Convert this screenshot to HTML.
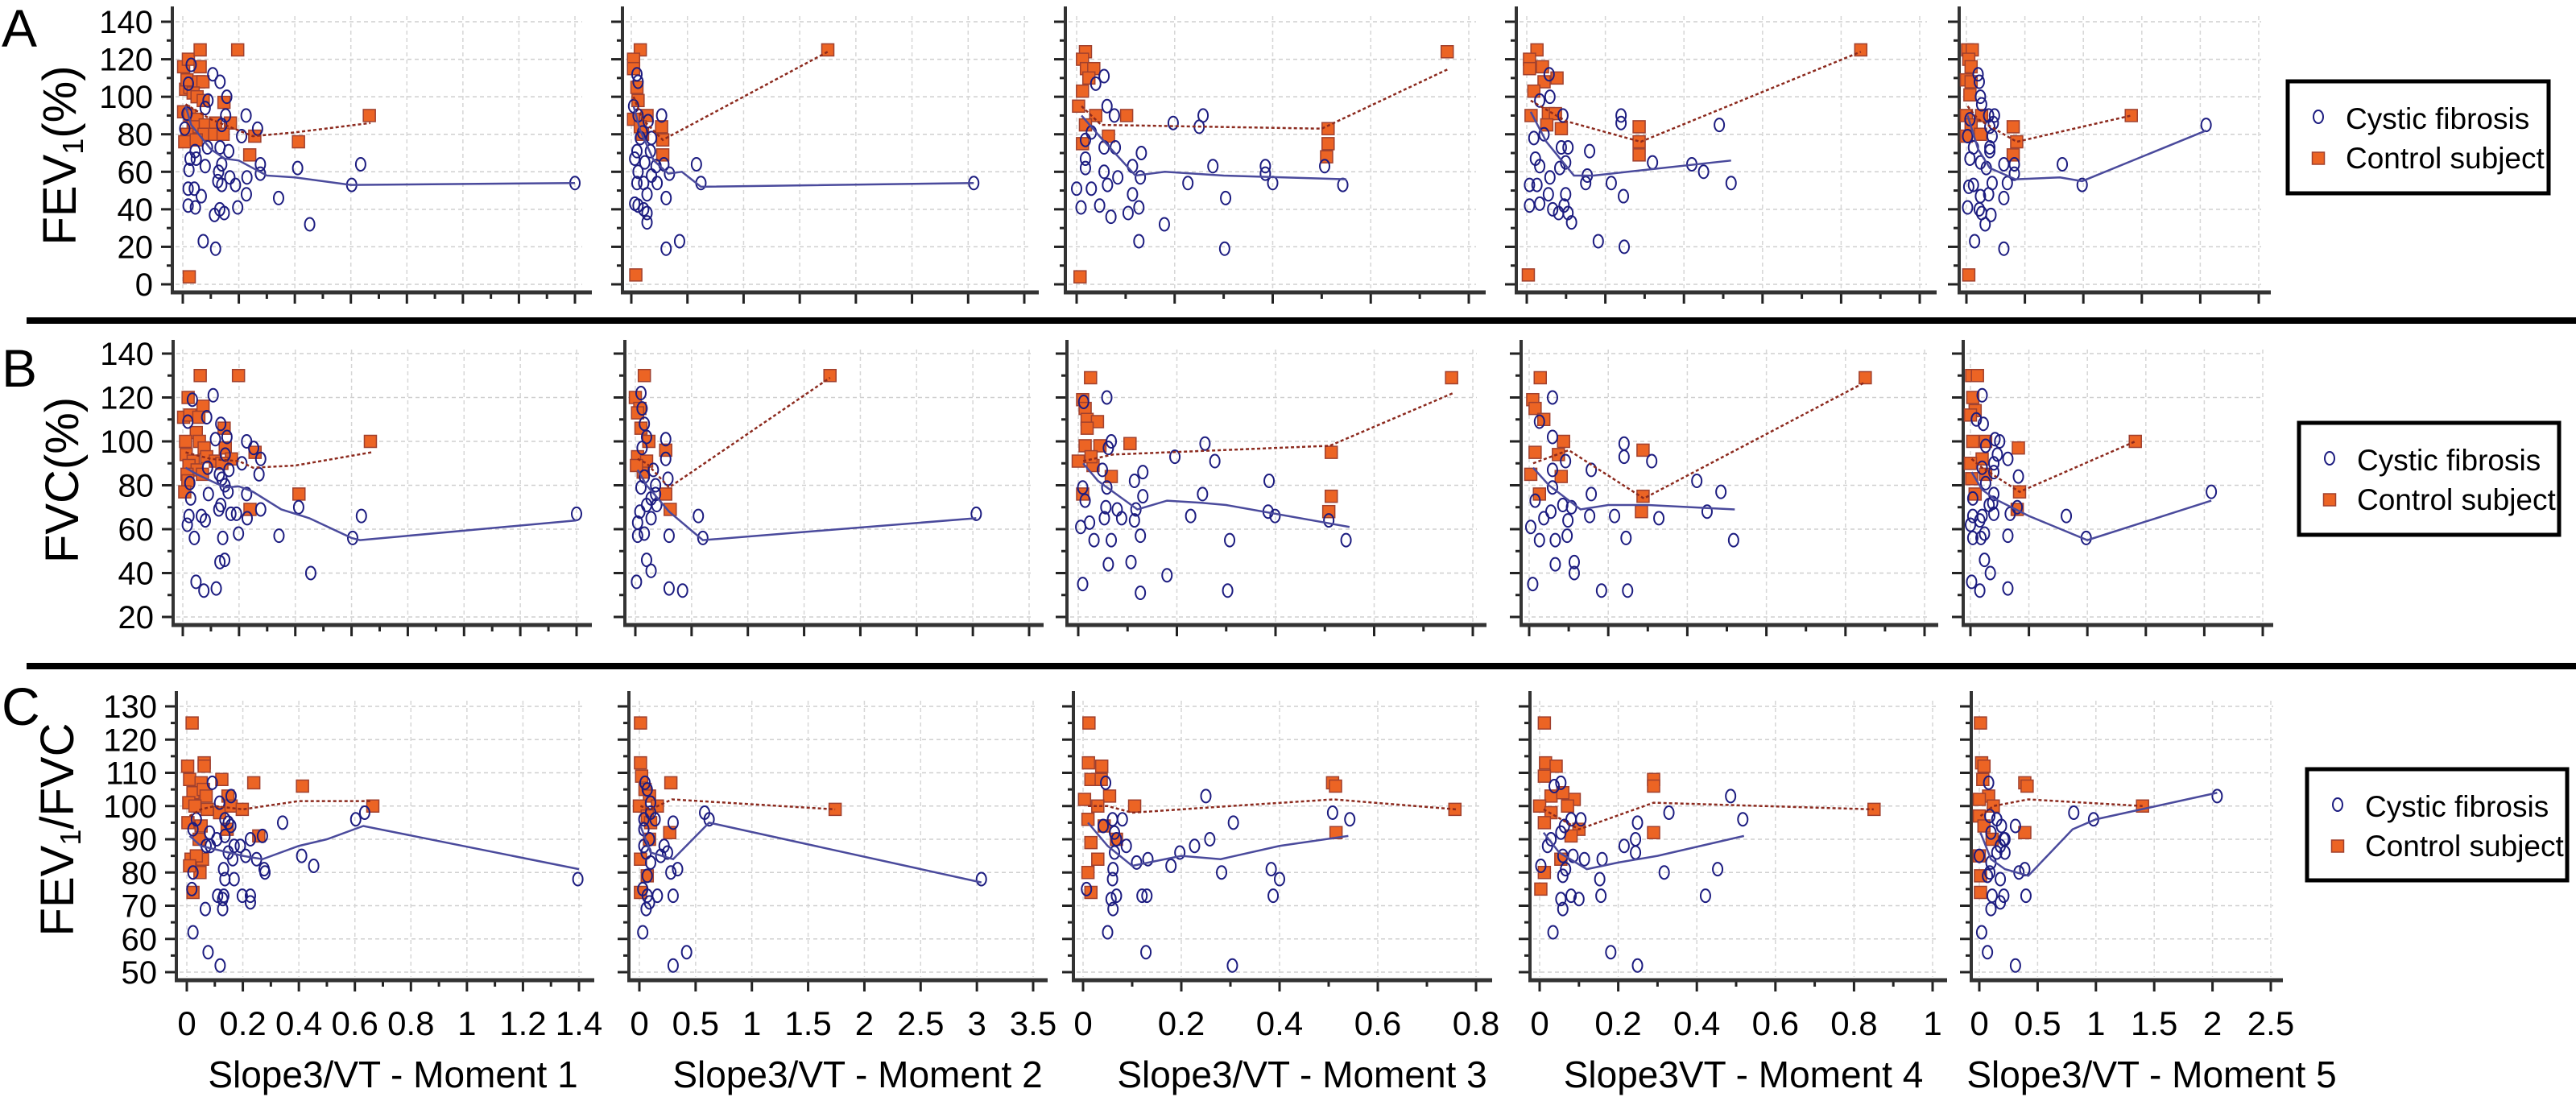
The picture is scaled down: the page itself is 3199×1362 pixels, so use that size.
<!DOCTYPE html>
<html><head><meta charset="utf-8">
<style>
html,body{margin:0;padding:0;background:#fff;}
svg{display:block;font-family:"Liberation Sans",Arial,sans-serif;}
</style></head>
<body>
<svg id="fig" width="3199" height="1362" viewBox="0 0 3199 1362" xmlns="http://www.w3.org/2000/svg"></svg>
<script>
// ---------- tick label arrays ----------
const xTickLabels1 = ["0","0.2","0.4","0.6","0.8","1","1.2","1.4"];
const xTickLabels2 = ["0","0.5","1","1.5","2","2.5","3","3.5"];
const xTickLabels3 = ["0","0.2","0.4","0.6","0.8"];
const xTickLabels4 = ["0","0.2","0.4","0.6","0.8","1"];
const xTickLabels5 = ["0","0.5","1","1.5","2","2.5"];
const xTitles = ["Slope3/VT - Moment 1","Slope3/VT - Moment 2","Slope3/VT - Moment 3","Slope3VT - Moment 4","Slope3/VT - Moment 5"];
const yTickLabelsA = ["0","20","40","60","80","100","120","140"];
const yTickLabelsB = ["20","40","60","80","100","120","140"];
const yTickLabelsC = ["50","60","70","80","90","100","110","120","130"];

// ---------- Row A (FEV1 %) ----------
const cfA1 = [[0.03,117],[0.107,112],[0.133,108],[0.02,107],[0.157,100],[0.09,98],[0.08,94],[0.153,90],[0.226,90],[0.139,85],[0.267,83],[0.21,79],[0.088,73],[0.133,73],[0.164,71],[0.044,71],[0.026,67],[0.048,67],[0.139,64],[0.277,64],[0.635,64],[0.08,63],[0.022,61],[0.128,60],[0.277,59],[0.41,62],[0.229,57],[0.168,57],[0.125,55],[0.139,53],[0.188,53],[0.603,53],[1.4,54],[0.019,51],[0.041,51],[0.227,48],[0.066,47],[0.342,46],[0.019,42],[0.045,41],[0.132,40],[0.196,41],[0.113,37],[0.148,38],[0.453,32],[0.073,23],[0.117,19],[0.007,83],[0.015,91]];
const ctA1 = [[0.003,116],[0.02,120],[0.062,125],[0.196,125],[0.01,104],[0.025,105],[0.015,109],[0.062,116],[0.057,108],[0.072,108],[0.037,102],[0.051,100],[0.073,98],[0.147,97],[0.003,92],[0.025,90],[0.051,88],[0.08,85],[0.117,86],[0.17,86],[0.037,84],[0.015,80],[0.076,80],[0.114,80],[0.144,80],[0.257,79],[0.007,76],[0.048,77],[0.239,69],[0.413,76],[0.666,90],[0.023,4]];
const cfLineA1 = [[0.01,95],[0.03,85],[0.1,72],[0.15,67],[0.2,66],[0.3,58],[0.4,57],[0.6,53],[1.4,54]];
const ctLineA1 = [[0.01,96],[0.1,88],[0.25,79],[0.4,81],[0.67,86]];

const cfA2 = [[0.05,112],[0.06,108],[0.02,95],[0.06,90],[0.27,90],[0.15,87],[0.05,71],[0.17,71],[0.03,67],[0.12,65],[0.29,64],[0.58,64],[0.22,63],[0.06,60],[0.34,59],[0.18,58],[0.05,54],[0.11,54],[0.23,54],[0.62,54],[3.05,54],[0.14,48],[0.31,46],[0.06,42],[0.03,43],[0.11,40],[0.14,38],[0.14,33],[0.31,19],[0.43,23],[0.1,81],[0.18,78],[0.08,78]];
const ctA2 = [[0.08,125],[0.02,120],[0.02,115],[0.05,105],[0.06,98],[0.14,90],[0.27,84],[0.1,80],[0.28,77],[0.28,69],[1.75,125],[0.04,5],[0.02,88],[0.08,84]];
const cfLineA2 = [[0.02,95],[0.08,82],[0.2,66],[0.33,59],[0.45,60],[0.62,52],[3.05,54]];
const ctLineA2 = [[0.02,100],[0.1,88],[0.28,77],[1.75,124]];

const cfA3 = [[0.056,111],[0.039,107],[0.062,95],[0.077,90],[0.197,86],[0.258,90],[0.25,84],[0.056,73],[0.079,73],[0.132,70],[0.018,67],[0.018,62],[0.114,63],[0.056,60],[0.084,57],[0.13,57],[0.278,63],[0.385,63],[0.385,59],[0.506,63],[0.0,51],[0.03,51],[0.063,53],[0.227,54],[0.4,54],[0.543,53],[0.114,48],[0.304,46],[0.009,41],[0.047,42],[0.07,36],[0.105,38],[0.127,41],[0.179,32],[0.127,23],[0.302,19],[0.03,81],[0.018,77]];
const ctA3 = [[0.018,124],[0.012,120],[0.02,115],[0.035,115],[0.025,110],[0.012,103],[0.004,95],[0.039,90],[0.102,90],[0.018,85],[0.065,79],[0.012,75],[0.513,83],[0.513,75],[0.51,68],[0.756,124],[0.007,4]];
const cfLineA3 = [[0.01,90],[0.05,78],[0.12,58],[0.18,60],[0.3,58],[0.55,56]];
const ctLineA3 = [[0.01,95],[0.05,85],[0.5,83],[0.76,115]];

const cfA4 = [[0.057,112],[0.033,98],[0.059,100],[0.092,90],[0.24,90],[0.24,86],[0.49,85],[0.088,73],[0.105,73],[0.16,71],[0.022,67],[0.099,65],[0.033,63],[0.084,62],[0.32,65],[0.42,64],[0.45,60],[0.154,58],[0.059,57],[0.007,53],[0.026,53],[0.15,54],[0.215,54],[0.52,54],[0.055,48],[0.099,48],[0.246,47],[0.007,42],[0.033,43],[0.066,40],[0.095,42],[0.081,38],[0.105,38],[0.114,33],[0.182,23],[0.248,20],[0.044,80],[0.018,78]];
const ctA4 = [[0.026,125],[0.007,120],[0.007,115],[0.04,116],[0.077,110],[0.044,108],[0.018,103],[0.055,91],[0.073,91],[0.011,90],[0.088,83],[0.051,85],[0.286,84],[0.286,76],[0.286,69],[0.85,125],[0.004,5]];
const cfLineA4 = [[0.01,92],[0.05,76],[0.12,58],[0.17,58],[0.3,61],[0.52,66]];
const ctLineA4 = [[0.01,98],[0.1,87],[0.29,76],[0.85,124]];

const cfA5 = [[0.1,112],[0.11,108],[0.12,100],[0.13,96],[0.19,90],[0.24,90],[0.23,86],[0.2,84],[0.22,79],[0.01,79],[0.06,73],[0.2,73],[0.2,71],[0.03,67],[0.12,65],[0.17,62],[0.32,64],[0.41,64],[0.82,64],[0.41,59],[0.02,52],[0.06,53],[0.22,54],[0.35,54],[0.99,53],[0.12,47],[0.19,48],[0.32,46],[0.01,41],[0.11,40],[0.13,38],[0.21,37],[0.16,32],[0.07,23],[0.32,19],[2.05,85],[0.03,88]];
const ctA5 = [[0.01,125],[0.05,125],[0.02,120],[0.04,116],[0.0,109],[0.04,108],[0.03,101],[0.0,90],[0.13,90],[0.04,85],[0.12,80],[0.0,79],[0.4,84],[0.43,76],[0.4,69],[1.41,90],[0.02,5]];
const cfLineA5 = [[0.01,90],[0.1,72],[0.2,62],[0.42,56],[0.8,57],[0.99,55],[2.05,82]];
const ctLineA5 = [[0.01,95],[0.1,88],[0.43,76],[1.41,90]];

// ---------- Row B (FVC %) ----------
const cfB1 = [[0.034,119],[0.108,121],[0.135,108],[0.018,109],[0.157,102],[0.085,111],[0.116,101],[0.227,100],[0.252,97],[0.151,94],[0.277,92],[0.21,90],[0.088,88],[0.164,87],[0.271,85],[0.139,83],[0.025,81],[0.161,77],[0.091,76],[0.227,76],[0.028,74],[0.135,71],[0.128,69],[0.277,69],[0.412,70],[0.171,67],[0.191,67],[0.022,66],[0.066,66],[0.229,65],[0.635,66],[0.08,64],[0.016,62],[1.4,67],[0.041,56],[0.142,56],[0.198,58],[0.342,57],[0.604,56],[0.132,45],[0.149,46],[0.455,40],[0.047,36],[0.075,32],[0.119,33],[0.13,85],[0.15,80]];
const ctB1 = [[0.062,130],[0.198,130],[0.019,120],[0.003,111],[0.025,112],[0.072,116],[0.057,111],[0.048,104],[0.147,106],[0.01,100],[0.059,100],[0.076,97],[0.151,97],[0.257,95],[0.012,94],[0.037,91],[0.085,93],[0.116,91],[0.173,92],[0.022,89],[0.051,87],[0.015,85],[0.07,85],[0.139,90],[0.018,82],[0.007,77],[0.239,69],[0.413,76],[0.667,100]];
const cfLineB1 = [[0.01,88],[0.05,85],[0.1,82],[0.15,79],[0.2,79.5],[0.25,77],[0.35,69],[0.45,65],[0.6,56],[0.63,55],[1.4,64]];
const ctLineB1 = [[0.01,95],[0.1,92],[0.2,91],[0.25,88],[0.4,89],[0.67,95]];

const cfB2 = [[0.05,122],[0.06,115],[0.08,108],[0.27,101],[0.1,102],[0.27,92],[0.16,87],[0.08,84],[0.29,83],[0.05,79],[0.18,76],[0.14,74],[0.19,71],[0.1,71],[0.04,68],[0.14,65],[0.56,66],[3.03,67],[0.02,63],[0.08,58],[0.02,57],[0.3,57],[0.6,56],[0.1,46],[0.14,41],[0.01,36],[0.3,33],[0.42,32],[0.18,80],[0.06,97]];
const ctB2 = [[0.08,130],[0.0,120],[0.04,115],[0.02,113],[0.05,106],[0.12,100],[0.02,93],[0.27,96],[0.07,86],[0.27,76],[0.31,69],[1.73,130],[0.1,91],[0.01,89]];
const cfLineB2 = [[0.02,87],[0.1,80],[0.3,68],[0.6,55],[3.03,65]];
const ctLineB2 = [[0.02,92],[0.1,90],[0.3,79],[1.73,129]];

const cfB3 = [[0.058,120],[0.011,118],[0.067,100],[0.257,99],[0.061,97],[0.196,93],[0.277,91],[0.049,87],[0.131,86],[0.114,82],[0.387,82],[0.009,79],[0.058,79],[0.131,75],[0.252,76],[0.014,73],[0.056,70],[0.079,69],[0.117,69],[0.385,68],[0.399,66],[0.228,66],[0.508,64],[0.023,63],[0.053,65],[0.088,65],[0.114,64],[0.005,61],[0.032,55],[0.067,55],[0.126,57],[0.307,55],[0.543,55],[0.061,44],[0.107,45],[0.18,39],[0.009,35],[0.126,31],[0.303,32]];
const ctB3 = [[0.025,129],[0.009,119],[0.014,115],[0.018,110],[0.039,109],[0.018,106],[0.014,98],[0.044,98],[0.105,99],[0.0,91],[0.03,89],[0.067,84],[0.009,76],[0.513,95],[0.513,75],[0.508,68],[0.757,129],[0.026,93]];
const cfLineB3 = [[0.01,90],[0.04,82],[0.12,69],[0.18,73],[0.25,72],[0.3,71],[0.55,61]];
const ctLineB3 = [[0.01,91],[0.07,94],[0.51,98],[0.76,122]];

const cfB4 = [[0.059,120],[0.026,109],[0.059,102],[0.24,99],[0.24,93],[0.31,91],[0.092,91],[0.059,87],[0.157,87],[0.424,82],[0.059,79],[0.157,76],[0.485,77],[0.015,73],[0.085,71],[0.107,70],[0.055,68],[0.45,68],[0.153,66],[0.216,66],[0.328,65],[0.037,65],[0.098,64],[0.004,61],[0.026,55],[0.066,55],[0.096,57],[0.245,56],[0.517,55],[0.066,44],[0.114,45],[0.114,40],[0.009,35],[0.183,32],[0.249,32]];
const ctB4 = [[0.028,129],[0.009,119],[0.015,115],[0.037,110],[0.087,100],[0.015,95],[0.074,94],[0.004,85],[0.081,84],[0.026,76],[0.288,96],[0.288,75],[0.284,68],[0.85,129]];
const cfLineB4 = [[0.01,88],[0.05,80],[0.13,69],[0.2,71],[0.3,71],[0.52,69]];
const ctLineB4 = [[0.01,90],[0.1,96],[0.29,74],[0.85,127]];

const cfB5 = [[0.1,121],[0.05,110],[0.11,108],[0.21,101],[0.25,100],[0.13,98],[0.23,94],[0.32,92],[0.2,90],[0.1,88],[0.2,86],[0.41,84],[0.13,81],[0.2,76],[0.02,74],[0.19,72],[0.16,71],[0.34,67],[0.4,70],[0.82,66],[0.02,66],[0.1,66],[0.2,67],[0.0,62],[0.08,64],[0.02,56],[0.09,56],[0.12,58],[0.32,57],[0.99,56],[2.06,77],[0.12,46],[0.17,40],[0.01,36],[0.08,32],[0.32,33]];
const ctB5 = [[0.01,130],[0.06,130],[0.02,120],[0.04,114],[0.0,112],[0.02,100],[0.13,100],[0.1,92],[0.0,90],[0.13,85],[0.04,76],[0.41,97],[0.42,77],[0.4,69],[1.41,100],[0.01,83]];
const cfLineB5 = [[0.01,86],[0.1,78],[0.2,74],[0.5,66],[1.0,55],[2.06,73]];
const ctLineB5 = [[0.01,92],[0.1,88],[0.42,77],[1.41,100]];

// ---------- Row C (FEV1/FVC) ----------
const cfC1 = [[0.091,107],[0.117,101],[0.158,103],[0.022,93],[0.034,96],[0.136,96],[0.148,95],[0.157,94],[0.342,95],[0.603,96],[0.635,98],[0.081,92],[0.107,90],[0.136,91],[0.069,88],[0.084,88],[0.169,88],[0.191,88],[0.227,90],[0.27,91],[0.148,86],[0.164,84],[0.21,85],[0.249,84],[0.41,85],[0.453,82],[0.131,81],[0.276,81],[0.279,80],[0.136,78],[0.169,78],[1.396,78],[0.022,80],[0.11,73],[0.132,73],[0.198,73],[0.227,73],[0.128,72],[0.128,69],[0.227,71],[0.066,69],[0.018,75],[0.022,62],[0.076,56],[0.119,52]];
const ctC1 = [[0.019,125],[0.003,112],[0.062,113],[0.062,112],[0.01,108],[0.051,107],[0.125,108],[0.239,107],[0.413,106],[0.022,104],[0.059,105],[0.069,103],[0.007,101],[0.029,100],[0.073,99],[0.117,98],[0.147,103],[0.158,100],[0.198,99],[0.664,100],[0.004,95],[0.051,94],[0.144,93],[0.044,90],[0.257,91],[0.015,84],[0.056,84],[0.034,85],[0.047,80],[0.022,74],[0.01,82]];
const cfLineC1 = [[0.01,91],[0.05,88],[0.1,87],[0.2,85],[0.27,84],[0.4,88],[0.5,90],[0.63,94],[1.4,81]];
const ctLineC1 = [[0.01,97],[0.05,99],[0.1,100],[0.2,99],[0.4,101.5],[0.66,101.5]];

const cfC2 = [[0.05,107],[0.07,105],[0.1,101],[0.1,98],[0.58,98],[0.62,96],[0.04,96],[0.14,96],[0.3,95],[0.04,93],[0.09,90],[0.04,88],[0.22,88],[0.25,86],[0.06,86],[0.19,85],[0.1,83],[0.34,81],[0.28,80],[0.07,79],[0.03,75],[0.07,73],[0.16,73],[0.3,73],[0.09,71],[0.06,69],[3.04,78],[0.03,62],[0.42,56],[0.3,52]];
const ctC2 = [[0.01,125],[0.01,113],[0.02,109],[0.28,107],[0.05,105],[0.09,103],[0.16,100],[0.0,100],[0.07,97],[0.1,95],[0.27,92],[0.09,90],[0.01,84],[0.07,79],[0.01,74],[1.74,99]];
const cfLineC2 = [[0.01,94],[0.1,86],[0.3,84],[0.62,95],[3.04,77]];
const ctLineC2 = [[0.01,100],[0.1,99],[0.29,102],[1.74,99]];

const cfC3 = [[0.046,107],[0.041,94],[0.06,96],[0.08,96],[0.25,103],[0.306,95],[0.508,98],[0.543,96],[0.064,92],[0.068,90],[0.088,88],[0.064,86],[0.109,83],[0.132,84],[0.197,86],[0.227,88],[0.258,90],[0.179,82],[0.282,80],[0.383,81],[0.4,78],[0.061,81],[0.06,78],[0.007,75],[0.068,73],[0.12,73],[0.13,73],[0.057,72],[0.061,69],[0.387,73],[0.05,62],[0.128,56],[0.304,52]];
const ctC3 = [[0.012,125],[0.011,113],[0.038,112],[0.016,108],[0.037,108],[0.054,103],[0.003,102],[0.03,100],[0.105,100],[0.01,96],[0.043,94],[0.016,89],[0.03,84],[0.01,80],[0.016,74],[0.068,90],[0.508,107],[0.514,106],[0.515,92],[0.757,99]];
const cfLineC3 = [[0.01,95],[0.05,88],[0.1,82],[0.2,85],[0.28,84],[0.4,88],[0.54,91]];
const ctLineC3 = [[0.01,100],[0.05,100],[0.1,98],[0.3,100],[0.51,102],[0.76,99]];

const cfC4 = [[0.054,107],[0.037,106],[0.486,103],[0.329,98],[0.517,96],[0.08,96],[0.105,96],[0.063,94],[0.249,95],[0.054,92],[0.029,90],[0.244,90],[0.215,88],[0.244,86],[0.02,88],[0.059,85],[0.085,85],[0.114,84],[0.159,84],[0.003,82],[0.066,81],[0.317,80],[0.453,81],[0.059,79],[0.153,78],[0.08,73],[0.1,72],[0.156,73],[0.422,73],[0.054,72],[0.059,69],[0.034,62],[0.181,56],[0.249,52]];
const ctC4 = [[0.012,125],[0.015,113],[0.042,112],[0.012,109],[0.029,103],[0.088,102],[0.0,100],[0.071,100],[0.059,104],[0.029,98],[0.012,95],[0.1,93],[0.29,108],[0.29,106],[0.29,92],[0.08,91],[0.054,84],[0.012,80],[0.003,75],[0.851,99]];
const cfLineC4 = [[0.01,92],[0.05,86],[0.12,81],[0.2,83],[0.3,85],[0.52,91]];
const ctLineC4 = [[0.01,99],[0.1,93],[0.29,101],[0.85,99]];

const cfC5 = [[0.08,107],[0.09,97],[0.15,96],[0.19,94],[0.31,94],[0.81,98],[0.98,96],[2.04,103],[0.1,92],[0.21,90],[0.22,90],[0.18,88],[0.22,86],[0.15,86],[0.1,83],[0.39,81],[0.34,80],[0.09,80],[0.07,79],[0.18,78],[0.11,73],[0.21,73],[0.4,73],[0.18,71],[0.1,69],[0.02,62],[0.07,56],[0.31,52],[0.0,85]];
const ctC5 = [[0.01,125],[0.02,113],[0.04,112],[0.03,108],[0.08,103],[0.0,102],[0.12,100],[0.0,97],[0.04,94],[0.11,90],[0.0,85],[0.01,79],[0.01,74],[0.39,107],[0.41,106],[0.39,92],[1.4,100]];
const cfLineC5 = [[0.01,92],[0.1,84],[0.22,81],[0.42,79],[0.8,93],[1.0,96],[2.04,104]];
const ctLineC5 = [[0.01,97],[0.05,98],[0.12,100],[0.42,102],[1.4,100]];

// ---------- layout (positions only) ----------
const NS = "http://www.w3.org/2000/svg";
const svg = document.getElementById("fig");
function el(tag, attrs, parent){
  const e = document.createElementNS(NS, tag);
  for (const k in attrs) e.setAttribute(k, attrs[k]);
  (parent||svg).appendChild(e);
  return e;
}
const rows = [
  {key:"A", min:0, max:140, top:27, bot:353, aTop:8, aBot:363, major:20, minor:10, labels:yTickLabelsA,
   cols:[[214,227,714,735],[773,784,1272,1290],[1323,1337,1824,1845],[1883,1896,2384,2405],[2433,2442,2805,2820]],
   data:[[cfA1,ctA1,cfLineA1,ctLineA1],[cfA2,ctA2,cfLineA2,ctLineA2],[cfA3,ctA3,cfLineA3,ctLineA3],[cfA4,ctA4,cfLineA4,ctLineA4],[cfA5,ctA5,cfLineA5,ctLineA5]]},
  {key:"B", min:20, max:140, top:439, bot:766, aTop:422, aBot:776, major:20, minor:10, labels:yTickLabelsB,
   cols:[[215,227,716,735],[776,789,1278,1296],[1325,1339,1829,1846],[1889,1899,2390,2407],[2438,2447,2810,2823]],
   data:[[cfB1,ctB1,cfLineB1,ctLineB1],[cfB2,ctB2,cfLineB2,ctLineB2],[cfB3,ctB3,cfLineB3,ctLineB3],[cfB4,ctB4,cfLineB4,ctLineB4],[cfB5,ctB5,cfLineB5,ctLineB5]]},
  {key:"C", min:50, max:130, top:877, bot:1207, aTop:858, aBot:1217, major:10, minor:5, labels:yTickLabelsC,
   cols:[[219,232,719,738],[781,794,1283,1301],[1333,1345,1833,1853],[1900,1912,2400,2418],[2448,2458,2820,2835]],
   data:[[cfC1,ctC1,cfLineC1,ctLineC1],[cfC2,ctC2,cfLineC2,ctLineC2],[cfC3,ctC3,cfLineC3,ctLineC3],[cfC4,ctC4,cfLineC4,ctLineC4],[cfC5,ctC5,cfLineC5,ctLineC5]]}
];
const colX = [
  {max:1.4, major:0.2, minor:0.1, labels:xTickLabels1},
  {max:3.5, major:0.5, minor:0.5, labels:xTickLabels2},
  {max:0.8, major:0.2, minor:0.1, labels:xTickLabels3},
  {max:1.0, major:0.2, minor:0.1, labels:xTickLabels4},
  {max:2.5, major:0.5, minor:0.5, labels:xTickLabels5}
];
const titleCx = [488,1065,1617,2165,2672];

rows.forEach((r, ri) => {
  const yS = v => r.bot - (v - r.min) * (r.bot - r.top) / (r.max - r.min);
  r.cols.forEach((c, ci) => {
    const [ax, x0, x1, aEnd] = c;
    const cx = colX[ci];
    const xS = v => x0 + v * (x1 - x0) / cx.max;
    const g = el("g", {});
    
    
    for (let v = r.min; v <= r.max + 1e-9; v += r.major) {
      const gl = el("line", {x1:ax+4, x2:aEnd-12, y1:yS(v), y2:yS(v), stroke:"#cfcfcf", "stroke-width":1.5, "stroke-dasharray":"5 4"}, g);
      
      
    }
    const nMaj = Math.round(cx.max / cx.major);
    for (let i = 0; i <= nMaj; i++) {
      const v = i * cx.major;
      const gl = el("line", {x1:xS(v), x2:xS(v), y1:r.aTop+12, y2:r.aBot-4, stroke:"#d6d6d6", "stroke-width":1.5, "stroke-dasharray":"5 4"}, g);
      
      
    }
    for (let v = r.min; v <= r.max + 1e-9; v += r.minor) {
      const isMaj = Math.abs(((v - r.min) / r.major) - Math.round((v - r.min) / r.major)) < 1e-6;
      const t = el("line", {x1:ax - (isMaj?14:7), x2:ax, y1:yS(v), y2:yS(v), stroke:"#222", "stroke-width":3}, g);
      
      
    }
    const nMin = Math.round(cx.max / cx.minor);
    for (let i = 0; i <= nMin; i++) {
      const v = i * cx.minor;
      const isMaj = Math.abs(v / cx.major - Math.round(v / cx.major)) < 1e-6;
      const t = el("line", {x1:xS(v), x2:xS(v), y1:r.aBot, y2:r.aBot + (isMaj?14:8), stroke:"#222", "stroke-width":3}, g);
      
      
    }
    const ya = el("line", {x1:ax, x2:ax, y1:r.aTop, y2:r.aBot+2, stroke:"#333", "stroke-width":4}, g);
    
    
    const xa = el("line", {x1:ax-2, x2:aEnd, y1:r.aBot, y2:r.aBot, stroke:"#333", "stroke-width":5}, g);
    
    
    if (ci === 0) {
      r.labels.forEach(lab => {
        const v = parseFloat(lab);
        const t = el("text", {x:ax-24, y:yS(v)+14, "text-anchor":"end", "font-size":40, fill:"#000"}, g);
        t.textContent = lab;
        
        
      });
    }
    if (ri === 2) {
      cx.labels.forEach(lab => {
        const v = parseFloat(lab);
        const t = el("text", {x:xS(v), y:1285, "text-anchor":"middle", "font-size":42, fill:"#000"}, g);
        t.textContent = lab;
        
        
      });
      const tt = el("text", {x:titleCx[ci], y:1350, "text-anchor":"middle", "font-size":46, fill:"#000"}, g);
      tt.textContent = xTitles[ci];
      
      
    }
    const [cf, ct, cfL, ctL] = r.data[ci];
    ct.forEach(p => {
      const s = el("rect", {x:xS(p[0])-7.5, y:yS(p[1])-7.5, width:15, height:15, fill:"#ec6424", stroke:"#a0402e", "stroke-width":1.5}, g);
      
      
    });
    cf.forEach(p => {
      const c2 = el("ellipse", {cx:xS(p[0]), cy:yS(p[1]), rx:6, ry:8, fill:"none", stroke:"#1c1c80", "stroke-width":2}, g);
      
      
    });
    const l1 = el("polyline", {points:cfL.map(p => xS(p[0]) + "," + yS(p[1])).join(" "), fill:"none", stroke:"#4a4a9c", "stroke-width":2.5}, g);
    
    
    const l2 = el("polyline", {points:ctL.map(p => xS(p[0]) + "," + yS(p[1])).join(" "), fill:"none", stroke:"#8c2a1e", "stroke-width":2.5, "stroke-dasharray":"4 3"}, g);
    
    
  });
});

[398, 827].forEach(y => {
  const s = el("rect", {x:33, y:y-4, width:3166, height:8, fill:"#000"});
  
  
});

[["A",58],["B",480],["C",900]].forEach(([t,y]) => {
  const e = el("text", {x:2, y:y, "font-size":66, fill:"#000"});
  e.textContent = t;
  
  
});

[["FEV","1","(%)",74,193],["FVC(%)","","",77,596],["FEV","1","/FVC",71,1030]].forEach(([a,sub,b,x,y]) => {
  const t = el("text", {x:0, y:0, "text-anchor":"middle", "font-size":58, fill:"#000", transform:"translate(" + (x+20) + "," + y + ") rotate(-90)"});
  
  
  const s1 = el("tspan", {}, t); s1.textContent = a;
  if (sub) {
    const s2 = el("tspan", {"font-size":36, dy:9}, t); s2.textContent = sub;
    const s3 = el("tspan", {dy:-9}, t); s3.textContent = b;
  }
});

[[2841,101,324,139],[2855,525,323,139],[2865,955,323,138]].forEach(([x,y,w,h], i) => {
  const g = el("g", {});
  
  
  el("rect", {x:x, y:y, width:w, height:h, fill:"#fff", stroke:"#000", "stroke-width":5}, g);
  const mx = x + 38, tx = x + 72;
  const c = el("ellipse", {cx:mx, cy:y+44, rx:6, ry:8, fill:"none", stroke:"#1c1c80", "stroke-width":2}, g);
  
  
  const t1 = el("text", {x:tx, y:y+59, "font-size":37, fill:"#000"}, g);
  t1.textContent = "Cystic fibrosis";
  
  
  const s = el("rect", {x:mx-7.5, y:y+88, width:15, height:15, fill:"#ec6424", stroke:"#a0402e", "stroke-width":1.5}, g);
  
  
  const t2 = el("text", {x:tx, y:y+108, "font-size":37, fill:"#000"}, g);
  t2.textContent = "Control subject";
  
  
});
</script>
</body></html>
